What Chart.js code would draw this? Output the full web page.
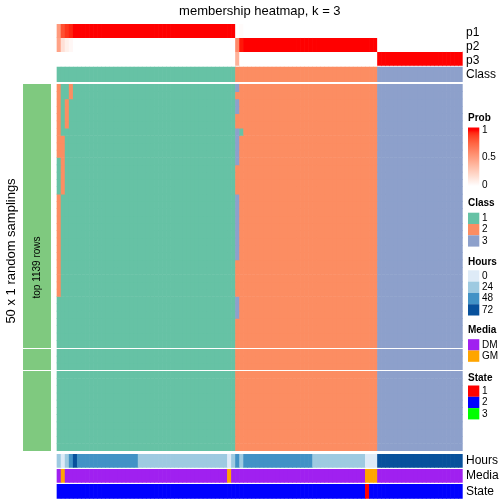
<!DOCTYPE html>
<html>
<head>
<meta charset="utf-8">
<script src="https://cdn.jsdelivr.net/npm/chart.js@4.4.0/dist/chart.umd.min.js"></script>
<style>
  html, body { margin: 0; padding: 0; background: #fff; }
</style>
</head>
<body>
<canvas id="ChartCanvas1" width="504" height="504"></canvas>
<script>
function rep(v, n) { return Array(n).fill(v); }

// ---- data (100 samples, 50 samplings) ----
const sampleClass = [...rep('1', 44), ...rep('2', 35), ...rep('3', 21)];

const p1 = [0.52, 0.84, 0.92, 0.96, ...rep(1, 40), 0, 0.02, ...rep(0, 33), ...rep(0, 21)];
const p2 = [0.48, 0.16, 0.08, 0.04, ...rep(0, 40), 0.6, 0.98, ...rep(1, 33), ...rep(0, 21)];
const p3 = [...rep(0, 44), 0.4, 0, ...rep(0, 33), ...rep(1, 21)];

const hours = [24, 0, 24, 48, 72, ...rep(48, 15), ...rep(24, 22), 0, 24, 48, 24,
               ...rep(48, 17), ...rep(24, 13), ...rep(0, 3), ...rep(72, 21)];
const media = ['DM', 'GM', ...rep('DM', 40), 'GM', ...rep('DM', 33), ...rep('GM', 3), ...rep('DM', 21)];
const state = [...rep(2, 76), 1, ...rep(2, 23)];

// class per sampling row: columns 0-3 and 44-45 differ, the rest follow sampleClass
const samplingLeft = ['2112', '2112', '2121', '2121', '2121', '2121', '2111', '2211', '2211', '2211',
                      '1211', '1211', '1211', '1211', '1211', ...rep('2111', 14), ...rep('1111', 21)];
const samplingMid = ['32', '22', '32', '32', '22', '22', '31', '32', '32', '32', '32',
                     '22', '22', '22', '22', ...rep('32', 9), ...rep('22', 5), ...rep('32', 3), ...rep('22', 18)];
const rowGroups = [36, 3, 11];

const classColors = { '1': '#66C2A5', '2': '#FC8D62', '3': '#8DA0CB' };
const hourColors = { 0: '#DEEBF7', 24: '#9ECAE1', 48: '#4292C6', 72: '#08519C' };
const mediaColors = { DM: '#A020F0', GM: '#FFA500' };
const stateColors = { 1: '#FF0000', 2: '#0000FF', 3: '#00FF00' };
const rowAnnoColor = '#7FC97F';

// ---- layout (y units = pixels below the top of the plot area; bars inflate 0.33) ----
const bands = {
    p1: [0.33, 13.7], p2: [13.7, 27.7], p3: [27.7, 41.37], Class: [43.03, 57.67],
    Hours: [430.33, 443.37], Media: [445.33, 458.37], State: [460.33, 474.37]
};
const groupExtents = [[60.33, 323.67], [325.33, 345.67], [347.33, 426.67]];
const labelNudge = { p1: 1.7, p2: 1.7, p3: 1.7 };
const rowAnnoX = -4.93;

// white -> red in Lab, like colorRamp2
function toLin(c) { c /= 255; return c <= 0.04045 ? c / 12.92 : Math.pow((c + 0.055) / 1.055, 2.4); }
function fromLin(c) { c = c <= 0.0031308 ? 12.92 * c : 1.055 * Math.pow(c, 1 / 2.4) - 0.055; return Math.round(Math.min(1, Math.max(0, c)) * 255); }
function rgbToLab(r, g, b) {
    r = toLin(r); g = toLin(g); b = toLin(b);
    const X = (0.4124 * r + 0.3576 * g + 0.1805 * b) / 0.95047;
    const Y = 0.2126 * r + 0.7152 * g + 0.0722 * b;
    const Z = (0.0193 * r + 0.1192 * g + 0.9505 * b) / 1.08883;
    const f = t => t > 0.008856 ? Math.cbrt(t) : 7.787 * t + 16 / 116;
    const fx = f(X), fy = f(Y), fz = f(Z);
    return [116 * fy - 16, 500 * (fx - fy), 200 * (fy - fz)];
}
function labToRgb(L, a, b) {
    const fy = (L + 16) / 116, fx = fy + a / 500, fz = fy - b / 200;
    const fi = t => t * t * t > 0.008856 ? t * t * t : (t - 16 / 116) / 7.787;
    const X = fi(fx) * 0.95047, Y = fi(fy), Z = fi(fz) * 1.08883;
    const r = 3.2406 * X - 1.5372 * Y - 0.4986 * Z;
    const g = -0.9689 * X + 1.8758 * Y + 0.0415 * Z;
    const bb = 0.0557 * X - 0.2040 * Y + 1.0570 * Z;
    return 'rgb(' + fromLin(r) + ',' + fromLin(g) + ',' + fromLin(bb) + ')';
}
const labWhite = rgbToLab(255, 255, 255), labRed = rgbToLab(255, 0, 0);
function probColor(p) {
    return labToRgb(...labWhite.map((w, i) => w + (labRed[i] - w) * p));
}

function bandData(b) { return sampleClass.map((_, i) => ({ x: i + 0.5, y: b })); }

const datasets = [];
[['p1', p1], ['p2', p2], ['p3', p3]].forEach(([k, arr]) => {
    datasets.push({ label: k, data: bandData(bands[k]), backgroundColor: arr.map(probColor) });
});
datasets.push({ label: 'Class', data: bandData(bands.Class), backgroundColor: sampleClass.map(c => classColors[c]) });

let r = 0;
rowGroups.forEach((n, gi) => {
    const [g0, g1] = groupExtents[gi];
    const h = (g1 - g0) / n;
    for (let k = 0; k < n; k++, r++) {
        const cells = sampleClass.map((c, i) => i < 4 ? samplingLeft[r][i] : (i === 44 || i === 45) ? samplingMid[r][i - 44] : c);
        datasets.push({ label: 'sampling ' + (r + 1), data: bandData([g0 + k * h, g0 + (k + 1) * h]), backgroundColor: cells.map(c => classColors[c]) });
    }
});
datasets.push({ label: 'Hours', data: bandData(bands.Hours), backgroundColor: hours.map(v => hourColors[v]) });
datasets.push({ label: 'Media', data: bandData(bands.Media), backgroundColor: media.map(m => mediaColors[m]) });
datasets.push({ label: 'State', data: bandData(bands.State), backgroundColor: state.map(s => stateColors[s]) });
datasets.push({ label: 'top 1139 rows', data: groupExtents.map(b => ({ x: rowAnnoX, y: b })), backgroundColor: rowAnnoColor, barThickness: 27.3 });

const sideLabels = ['p1', 'p2', 'p3', 'Class', 'Hours', 'Media', 'State'];

const FONT = '"Liberation Sans", Arial, Helvetica, sans-serif';
Chart.defaults.font.family = FONT;
Chart.defaults.color = '#000';

const textPlugin = {
    id: 'heatTexts',
    afterDraw(chart) {
        const ctx = chart.ctx, xs = chart.scales.x, ys = chart.scales.y;
        ctx.save();
        ctx.fillStyle = '#000';
        ctx.textBaseline = 'middle';
        ctx.textAlign = 'center';
        ctx.font = '13px ' + FONT;
        ctx.fillText('membership heatmap, k = 3', xs.getPixelForValue(50), 11);

        ctx.save();
        ctx.translate(11, 251);
        ctx.rotate(-Math.PI / 2);
        ctx.fillText('50 x 1 random samplings', 0, 0);
        ctx.restore();

        ctx.save();
        const mid = (groupExtents[0][0] + groupExtents[2][1]) / 2;
        ctx.translate(xs.getPixelForValue(rowAnnoX), ys.getPixelForValue(mid));
        ctx.rotate(-Math.PI / 2);
        ctx.font = '10px ' + FONT;
        ctx.fillText('top 1139 rows', 0, 0);
        ctx.restore();

        // legends
        const x0 = 468, lx = 482, sw = 11.3, sh = 11.3;
        ctx.textAlign = 'left';
        const title = (t, ty) => { ctx.fillStyle = '#000'; ctx.font = 'bold 10px ' + FONT; ctx.fillText(t, x0, ty); };
        const label = (t, ty) => { ctx.fillStyle = '#000'; ctx.font = '10px ' + FONT; ctx.fillText(t, lx, ty); };

        title('Prob', 118.5);
        const g = ctx.createLinearGradient(0, 130, 0, 186);
        for (let i = 0; i <= 20; i++) g.addColorStop(i / 20, probColor(1 - i / 20));
        ctx.fillStyle = g;
        ctx.fillRect(x0, 127.5, sw, 58.5);
        label('1', 130); label('0.5', 157.5); label('0', 185.5);

        const sections = [
            { t: 'Class', ty: 203, top: 212.7, items: [['1', classColors['1']], ['2', classColors['2']], ['3', classColors['3']]] },
            { t: 'Hours', ty: 262, top: 270.3, items: [['0', hourColors[0]], ['24', hourColors[24]], ['48', hourColors[48]], ['72', hourColors[72]]] },
            { t: 'Media', ty: 330, top: 339.2, items: [['DM', mediaColors.DM], ['GM', mediaColors.GM]] },
            { t: 'State', ty: 378, top: 385.5, items: [['1', stateColors[1]], ['2', stateColors[2]], ['3', stateColors[3]]] }
        ];
        sections.forEach(s => {
            title(s.t, s.ty);
            s.items.forEach(([name, col], i) => {
                ctx.fillStyle = col;
                ctx.fillRect(x0, s.top + i * sh, sw, sh);
                label(name, s.top + i * sh + sh / 2);
            });
        });
        ctx.restore();
    }
};

const ctx = document.getElementById('ChartCanvas1').getContext('2d');
new Chart(ctx, {
    type: 'bar',
    data: { datasets: datasets },
    options: {
        responsive: false,
        animation: false,
        events: [],
        layout: { padding: { top: 24, bottom: 5, left: 0, right: 0 } },
        datasets: {
            bar: { grouped: false, barPercentage: 1, categoryPercentage: 1, borderWidth: 0, borderSkipped: false, inflateAmount: 0.33 }
        },
        plugins: { legend: { display: false }, tooltip: { enabled: false }, title: { display: false } },
        scales: {
            x: {
                type: 'linear', display: false, offset: false,
                min: -35 / 4.057, max: 100,
                ticks: { maxTicksLimit: 5 }
            },
            y: {
                type: 'linear', position: 'left', min: 0, max: 475, reverse: true,
                grid: { display: false, drawTicks: false }, border: { display: false },
                ticks: { display: false },
                afterFit(s) { s.width = 22; s.paddingTop = 0; s.paddingBottom = 0; }
            },
            yr: {
                type: 'linear', position: 'right', min: 0, max: 475, reverse: true,
                grid: { display: false, drawTicks: false }, border: { display: false },
                ticks: {
                    autoSkip: false, padding: 3.3, font: { size: 12 }, color: '#000',
                    callback: (v, i) => sideLabels[i]
                },
                afterBuildTicks(s) {
                    s.ticks = sideLabels.map(k => ({ value: (bands[k][0] + bands[k][1]) / 2 + (labelNudge[k] || 0) }));
                },
                afterFit(s) { s.width = 41.3; s.paddingTop = 0; s.paddingBottom = 0; }
            }
        }
    },
    plugins: [textPlugin]
});
</script>
</body>
</html>
